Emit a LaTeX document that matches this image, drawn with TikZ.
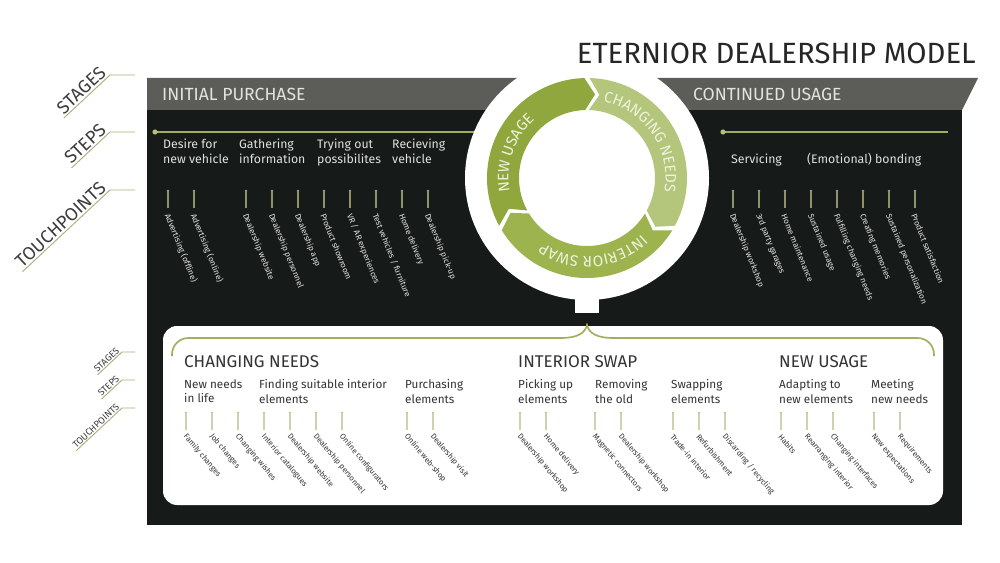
\documentclass[tikz,border=0pt]{standalone}
\usepackage{fontspec}
\setmainfont{Fira Sans}
\usetikzlibrary{positioning,decorations.text}

\definecolor{panelblack}{HTML}{161A18}
\definecolor{bargray}{HTML}{5C5C58}
\definecolor{bartext}{HTML}{E2E2E0}
\definecolor{olive}{HTML}{A4AC5E}
\definecolor{tickolive}{HTML}{8E9468}
\definecolor{khaki}{HTML}{D2D0AE}
\definecolor{lineolive}{HTML}{ADAD7C}
\definecolor{labelgray}{HTML}{3C3C3C}
\definecolor{darktext}{HTML}{333333}
\definecolor{ringdark}{HTML}{8FA73D}
\definecolor{ringmid}{HTML}{9DB34E}
\definecolor{ringlight}{HTML}{B4C67B}
\definecolor{ringtext}{HTML}{EEF2DC}

\newcommand{\ringfont}{\fontsize{13}{14}\selectfont}
% one arrow piece of the cycle: colour, start angle, end angle (clockwise)
\newcommand{\ringseg}[3]{%
  \fill[#1] (#2:100) arc[start angle=#2, end angle=#3, radius=100]
    -- ({#3-7}:84) -- (#3:68) arc[start angle=#3, end angle=#2, radius=68]
    -- ({#2-7}:84) -- cycle;}

\begin{document}
\begin{tikzpicture}[x=0.03cm, y=-0.03cm,
  sidelabel/.style={font=\fontsize{15.5}{16}\selectfont, text=labelgray, rotate=43, anchor=south east, inner sep=1.5pt},
  smalllabel/.style={sidelabel, font=\fontsize{8}{9}\selectfont, inner sep=1pt},
  sideline/.style={draw=lineolive, line width=0.8pt},
  stagebar/.style={font=\fontsize{15}{16}\selectfont, text=bartext, anchor=base west, inner sep=0},
  topstep/.style={font=\fontsize{10.5}{12.75}\selectfont, text=white!88!black, align=left, anchor=north west, inner sep=0},
  botstage/.style={font=\fontsize{14.5}{16}\selectfont, text=darktext, anchor=base west, inner sep=0},
  botstep/.style={topstep, text=darktext, font=\fontsize{10}{12.75}\selectfont},
  toptouch/.style={font=\fontsize{7}{8}\selectfont, text=white!90!black, rotate=-68, anchor=west, inner sep=0},
  bottouch/.style={font=\fontsize{6.6}{7}\selectfont, text=darktext, rotate=-50, anchor=west, inner sep=0},
  toptick/.style={draw=tickolive, line width=0.9pt},
  bottick/.style={draw=khaki, line width=0.9pt},
  stepline/.style={draw=olive, line width=1.5pt},
  brace/.style={draw=olive, line width=1.4pt},
  ringtxt/.style={decorate, decoration={text along path, text={|\ringfont\color{ringtext}|#1}, text align=center}},
]
\useasboundingbox (0,0) rectangle (1000,563);

% dark board
\fill[bargray] (147,78) -- (978,78) -- (962,110) -- (147,110) -- cycle;
\fill[panelblack] (147,110) rectangle (962,525);
\node[stagebar] (initial) at (162,101) {INITIAL PURCHASE};
\node[stagebar] (continued) at (693,101) {CONTINUED USAGE};

% step lines
\draw[stepline] (155,132) -- (480,132);
\fill[olive!80!white] (155,132) circle (2.6);
\draw[stepline] (723,132) -- (948,132);
\fill[olive!80!white] (723,132) circle (2.6);

% white disk with the cycle
\fill[white] (587,178) circle (122);
\fill[white] (575,290) rectangle (599,313);
\begin{scope}[shift={(587,178)}, x=0.03cm, y=0.03cm]
  \ringseg{ringdark}{208.5}{91.5}
  \ringseg{ringlight}{88.5}{-28.5}
  \ringseg{ringmid}{-31.5}{-148.5}
  \path[ringtxt={NEW USAGE}] (206:78.5) arc[start angle=206, end angle=116, radius=78.5];
  \path[ringtxt={CHANGING NEEDS}] (86:78.5) arc[start angle=86, end angle=-18, radius=78.5];
  \path[ringtxt={INTERIOR SWAP}] (-33:78.5) arc[start angle=-33, end angle=-137, radius=78.5];
\end{scope}

% title
\node[anchor=base east, inner sep=0, font=\fontsize{25}{28}\selectfont, text=black!85] (title) at (976,64) {ETERNIOR DEALERSHIP MODEL};

% upper steps
\node[topstep] (desire) at (163,139) {Desire for\\new vehicle};
\node[topstep] (gather) at (239,139) {Gathering\\information};
\node[topstep] (trying) at (317,139) {Trying out\\possibilites};
\node[topstep] (receive) at (392,139) {Recieving\\vehicle};
\node[topstep, anchor=base west] (service) at (731,163) {Servicing};
\node[topstep, anchor=base west] (bonding) at (807,163) {(Emotional) bonding};

% upper touchpoints
\foreach \x/\txt [count=\i] in {168/{Advertising (offline)}, 194/{Advertising (online)},
    246/{Dealership website}, 272/{Dealership personnel}, 298/{Dealership app},
    324/{Product showroom}, 350/{VR / AR experiences}, 376/{Test vehicles / furniture},
    402/{Home delivery}, 428/{Dealership pick-up},
    733/{Dealership workshop}, 759/{3rd party garages}, 785/{Home maintenance},
    811/{Sustained usage}, 837/{Fulfilling changing needs}, 863/{Creating memories},
    889/{Sustained personalization}, 915/{Product satisfaction}} {
  \coordinate (tt\i) at (\x,191);
  \fill[tickolive!80!white] (tt\i) circle (1.4);
  \draw[toptick] (tt\i) -- ++(0,17);
  \node[toptouch] (ttp\i) at (\x-1,214) {\txt};
}

% lower panel
\fill[white, rounded corners=12] (163,326) rectangle (943,505);
\draw[brace, rounded corners=14] (172,356) -- (172,338) -- (560,338);
\draw[brace] (560,338) .. controls (578,338) and (585,333) .. (587,325)
  .. controls (589,333) and (596,338) .. (614,338);
\draw[brace, rounded corners=14] (614,338) -- (934,338) -- (934,356);

\node[botstage] (chneeds) at (184,367) {CHANGING NEEDS};
\node[botstage] (swap) at (518,367) {INTERIOR SWAP};
\node[botstage] (newuse) at (779,367) {NEW USAGE};

\node[botstep] (newneeds) at (184,379) {New needs\\in life};
\node[botstep] (finding) at (259,379) {Finding suitable interior\\elements};
\node[botstep] (purchase) at (405,379) {Purchasing\\elements};
\node[botstep] (picking) at (518,379) {Picking up\\elements};
\node[botstep] (removing) at (595,379) {Removing\\the old};
\node[botstep] (swapping) at (671,379) {Swapping\\elements};
\node[botstep] (adapting) at (779,379) {Adapting to\\new elements};
\node[botstep] (meeting) at (871,379) {Meeting\\new needs};

% lower touchpoints
\foreach \x/\txt [count=\i] in {186/{Family changes}, 212/{Job changes}, 238/{Changing wishes},
    264/{Interior catalogues}, 290/{Dealership website}, 316/{Dealership personnel},
    342/{Online configurators}, 407/{Online web-shop}, 433/{Dealership visit},
    520/{Dealership workshop}, 546/{Home delivery}, 595/{Magnetic connectors},
    621/{Dealership workshop}, 673/{Trade-in interior}, 699/{Refurbishment},
    725/{Discarding / recycling}, 781/{Habits}, 807/{Rearranging interior},
    833/{Changing interfaces}, 874/{New expectations}, 900/{Requirements}} {
  \coordinate (bt\i) at (\x,413);
  \fill[olive] (bt\i) circle (1.2);
  \draw[bottick] (bt\i) -- ++(0,17);
  \node[bottouch] (btp\i) at (\x-1,435) {\txt};
}

% side labels, upper board
\node[sidelabel] (lstages) at (110,75) {STAGES};
\draw[sideline] (lstages.south west) -- (lstages.south east) -- (135,75);
\node[sidelabel] (lsteps) at (110,132) {STEPS};
\draw[sideline] (lsteps.south west) -- (lsteps.south east) -- (135,132);
\node[sidelabel] (ltouch) at (110,190) {TOUCHPOINTS};
\draw[sideline] (ltouch.south west) -- (ltouch.south east) -- (135,190);

% side labels, lower panel
\node[smalllabel] (sstages) at (122,352) {STAGES};
\draw[sideline] (sstages.south west) -- (sstages.south east) -- (135,352);
\node[smalllabel] (ssteps) at (122,380) {STEPS};
\draw[sideline] (ssteps.south west) -- (ssteps.south east) -- (135,380);
\node[smalllabel] (stouch) at (122,408) {TOUCHPOINTS};
\draw[sideline] (stouch.south west) -- (stouch.south east) -- (135,408);
\end{tikzpicture}
\end{document}
